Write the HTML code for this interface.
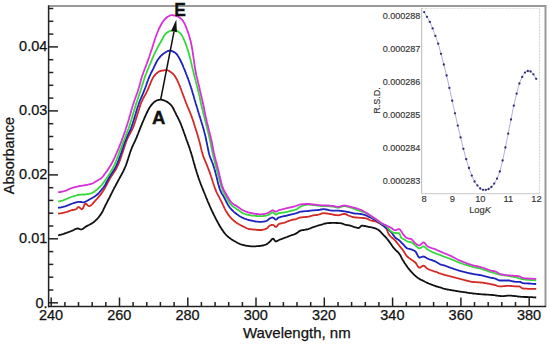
<!DOCTYPE html>
<html><head><meta charset="utf-8"><style>
html,body{margin:0;padding:0;background:#fff;}
body{width:550px;height:344px;overflow:hidden;}
svg{display:block;}
</style></head><body>
<svg width="550" height="344" viewBox="0 0 550 344">
<rect width="550" height="344" fill="#fff"/>
<line x1="48" y1="6" x2="546" y2="6" stroke="#999" stroke-width="2"/>
<line x1="545.5" y1="5" x2="545.5" y2="307" stroke="#999" stroke-width="2"/>
<line x1="48.6" y1="5.5" x2="48.6" y2="307.3" stroke="#222" stroke-width="1.5"/>
<line x1="48" y1="306.6" x2="546" y2="306.6" stroke="#222" stroke-width="1.5"/>
<line x1="48.6" y1="302.8" x2="58" y2="302.8" stroke="#222" stroke-width="1.5"/>
<line x1="48.6" y1="290.0" x2="53.3" y2="290.0" stroke="#222" stroke-width="1.5"/>
<line x1="48.6" y1="277.2" x2="53.3" y2="277.2" stroke="#222" stroke-width="1.5"/>
<line x1="48.6" y1="264.4" x2="53.3" y2="264.4" stroke="#222" stroke-width="1.5"/>
<line x1="48.6" y1="251.6" x2="53.3" y2="251.6" stroke="#222" stroke-width="1.5"/>
<line x1="48.6" y1="238.8" x2="58" y2="238.8" stroke="#222" stroke-width="1.5"/>
<line x1="48.6" y1="226.0" x2="53.3" y2="226.0" stroke="#222" stroke-width="1.5"/>
<line x1="48.6" y1="213.2" x2="53.3" y2="213.2" stroke="#222" stroke-width="1.5"/>
<line x1="48.6" y1="200.4" x2="53.3" y2="200.4" stroke="#222" stroke-width="1.5"/>
<line x1="48.6" y1="187.7" x2="53.3" y2="187.7" stroke="#222" stroke-width="1.5"/>
<line x1="48.6" y1="174.9" x2="58" y2="174.9" stroke="#222" stroke-width="1.5"/>
<line x1="48.6" y1="162.1" x2="53.3" y2="162.1" stroke="#222" stroke-width="1.5"/>
<line x1="48.6" y1="149.3" x2="53.3" y2="149.3" stroke="#222" stroke-width="1.5"/>
<line x1="48.6" y1="136.5" x2="53.3" y2="136.5" stroke="#222" stroke-width="1.5"/>
<line x1="48.6" y1="123.7" x2="53.3" y2="123.7" stroke="#222" stroke-width="1.5"/>
<line x1="48.6" y1="110.9" x2="58" y2="110.9" stroke="#222" stroke-width="1.5"/>
<line x1="48.6" y1="98.1" x2="53.3" y2="98.1" stroke="#222" stroke-width="1.5"/>
<line x1="48.6" y1="85.3" x2="53.3" y2="85.3" stroke="#222" stroke-width="1.5"/>
<line x1="48.6" y1="72.5" x2="53.3" y2="72.5" stroke="#222" stroke-width="1.5"/>
<line x1="48.6" y1="59.7" x2="53.3" y2="59.7" stroke="#222" stroke-width="1.5"/>
<line x1="48.6" y1="46.9" x2="58" y2="46.9" stroke="#222" stroke-width="1.5"/>
<line x1="48.6" y1="34.1" x2="53.3" y2="34.1" stroke="#222" stroke-width="1.5"/>
<line x1="48.6" y1="21.3" x2="53.3" y2="21.3" stroke="#222" stroke-width="1.5"/>
<line x1="48.6" y1="8.5" x2="53.3" y2="8.5" stroke="#222" stroke-width="1.5"/>
<line x1="51.2" y1="297.5" x2="51.2" y2="306.6" stroke="#222" stroke-width="1.5"/>
<line x1="64.9" y1="302" x2="64.9" y2="306.6" stroke="#222" stroke-width="1.5"/>
<line x1="78.5" y1="302" x2="78.5" y2="306.6" stroke="#222" stroke-width="1.5"/>
<line x1="92.2" y1="302" x2="92.2" y2="306.6" stroke="#222" stroke-width="1.5"/>
<line x1="105.8" y1="302" x2="105.8" y2="306.6" stroke="#222" stroke-width="1.5"/>
<line x1="119.5" y1="297.5" x2="119.5" y2="306.6" stroke="#222" stroke-width="1.5"/>
<line x1="133.1" y1="302" x2="133.1" y2="306.6" stroke="#222" stroke-width="1.5"/>
<line x1="146.8" y1="302" x2="146.8" y2="306.6" stroke="#222" stroke-width="1.5"/>
<line x1="160.4" y1="302" x2="160.4" y2="306.6" stroke="#222" stroke-width="1.5"/>
<line x1="174.1" y1="302" x2="174.1" y2="306.6" stroke="#222" stroke-width="1.5"/>
<line x1="187.8" y1="297.5" x2="187.8" y2="306.6" stroke="#222" stroke-width="1.5"/>
<line x1="201.4" y1="302" x2="201.4" y2="306.6" stroke="#222" stroke-width="1.5"/>
<line x1="215.1" y1="302" x2="215.1" y2="306.6" stroke="#222" stroke-width="1.5"/>
<line x1="228.7" y1="302" x2="228.7" y2="306.6" stroke="#222" stroke-width="1.5"/>
<line x1="242.4" y1="302" x2="242.4" y2="306.6" stroke="#222" stroke-width="1.5"/>
<line x1="256.0" y1="297.5" x2="256.0" y2="306.6" stroke="#222" stroke-width="1.5"/>
<line x1="269.7" y1="302" x2="269.7" y2="306.6" stroke="#222" stroke-width="1.5"/>
<line x1="283.4" y1="302" x2="283.4" y2="306.6" stroke="#222" stroke-width="1.5"/>
<line x1="297.0" y1="302" x2="297.0" y2="306.6" stroke="#222" stroke-width="1.5"/>
<line x1="310.7" y1="302" x2="310.7" y2="306.6" stroke="#222" stroke-width="1.5"/>
<line x1="324.3" y1="297.5" x2="324.3" y2="306.6" stroke="#222" stroke-width="1.5"/>
<line x1="338.0" y1="302" x2="338.0" y2="306.6" stroke="#222" stroke-width="1.5"/>
<line x1="351.6" y1="302" x2="351.6" y2="306.6" stroke="#222" stroke-width="1.5"/>
<line x1="365.3" y1="302" x2="365.3" y2="306.6" stroke="#222" stroke-width="1.5"/>
<line x1="378.9" y1="302" x2="378.9" y2="306.6" stroke="#222" stroke-width="1.5"/>
<line x1="392.6" y1="297.5" x2="392.6" y2="306.6" stroke="#222" stroke-width="1.5"/>
<line x1="406.3" y1="302" x2="406.3" y2="306.6" stroke="#222" stroke-width="1.5"/>
<line x1="419.9" y1="302" x2="419.9" y2="306.6" stroke="#222" stroke-width="1.5"/>
<line x1="433.6" y1="302" x2="433.6" y2="306.6" stroke="#222" stroke-width="1.5"/>
<line x1="447.2" y1="302" x2="447.2" y2="306.6" stroke="#222" stroke-width="1.5"/>
<line x1="460.9" y1="297.5" x2="460.9" y2="306.6" stroke="#222" stroke-width="1.5"/>
<line x1="474.5" y1="302" x2="474.5" y2="306.6" stroke="#222" stroke-width="1.5"/>
<line x1="488.2" y1="302" x2="488.2" y2="306.6" stroke="#222" stroke-width="1.5"/>
<line x1="501.8" y1="302" x2="501.8" y2="306.6" stroke="#222" stroke-width="1.5"/>
<line x1="515.5" y1="302" x2="515.5" y2="306.6" stroke="#222" stroke-width="1.5"/>
<line x1="529.2" y1="297.5" x2="529.2" y2="306.6" stroke="#222" stroke-width="1.5"/>
<text x="47.3" y="243.3" font-size="14.5" text-anchor="end" font-family="Liberation Sans" fill="#111" stroke="#111" stroke-width="0.25">0.01</text>
<text x="47.3" y="179.4" font-size="14.5" text-anchor="end" font-family="Liberation Sans" fill="#111" stroke="#111" stroke-width="0.25">0.02</text>
<text x="47.3" y="115.4" font-size="14.5" text-anchor="end" font-family="Liberation Sans" fill="#111" stroke="#111" stroke-width="0.25">0.03</text>
<text x="47.3" y="51.4" font-size="14.5" text-anchor="end" font-family="Liberation Sans" fill="#111" stroke="#111" stroke-width="0.25">0.04</text>
<text x="47.6" y="307.7" font-size="14.5" text-anchor="end" font-family="Liberation Sans" fill="#111" stroke="#111" stroke-width="0.25">0.</text>
<text x="51.0" y="319.9" font-size="14.5" text-anchor="middle" font-family="Liberation Sans" fill="#111" stroke="#111" stroke-width="0.25">240</text>
<text x="119.3" y="319.9" font-size="14.5" text-anchor="middle" font-family="Liberation Sans" fill="#111" stroke="#111" stroke-width="0.25">260</text>
<text x="187.6" y="319.9" font-size="14.5" text-anchor="middle" font-family="Liberation Sans" fill="#111" stroke="#111" stroke-width="0.25">280</text>
<text x="255.8" y="319.9" font-size="14.5" text-anchor="middle" font-family="Liberation Sans" fill="#111" stroke="#111" stroke-width="0.25">300</text>
<text x="324.1" y="319.9" font-size="14.5" text-anchor="middle" font-family="Liberation Sans" fill="#111" stroke="#111" stroke-width="0.25">320</text>
<text x="392.4" y="319.9" font-size="14.5" text-anchor="middle" font-family="Liberation Sans" fill="#111" stroke="#111" stroke-width="0.25">340</text>
<text x="460.7" y="319.9" font-size="14.5" text-anchor="middle" font-family="Liberation Sans" fill="#111" stroke="#111" stroke-width="0.25">360</text>
<text x="529.0" y="319.9" font-size="14.5" text-anchor="middle" font-family="Liberation Sans" fill="#111" stroke="#111" stroke-width="0.25">380</text>
<text x="296.8" y="337.9" font-size="15" text-anchor="middle" font-family="Liberation Sans" fill="#111" stroke="#111" stroke-width="0.25">Wavelength, nm</text>
<text transform="translate(13.8,155.6) rotate(-90)" font-size="14.45" text-anchor="middle" font-family="Liberation Sans" fill="#111" stroke="#111" stroke-width="0.25">Absorbance</text>
<rect x="421.6" y="8.5" width="117.8" height="185" fill="#fff" stroke="none"/>
<line x1="421.6" y1="8.5" x2="539.4" y2="8.5" stroke="#ddd" stroke-width="1" stroke-dasharray="2,1"/>
<line x1="539.4" y1="8.5" x2="539.4" y2="193.6" stroke="#ccc" stroke-width="1" stroke-dasharray="2,1"/>
<line x1="421.6" y1="8" x2="421.6" y2="194" stroke="#c4c4c4" stroke-width="1.2"/>
<line x1="421" y1="193.6" x2="539.4" y2="193.6" stroke="#d4d4d4" stroke-width="1.2"/>
<polyline points="424.2,12.1 425.2,13.7 426.2,15.4 427.2,17.1 428.2,18.9 429.2,20.7 430.2,22.7 431.2,25.0 432.2,27.4 433.2,29.9 434.2,32.6 435.2,35.4 436.2,38.0 437.2,40.8 438.2,43.7 439.2,47.1 440.2,50.8 441.2,54.5 442.2,58.3 443.2,62.2 444.2,66.0 445.2,69.9 446.2,73.9 447.2,78.1 448.2,82.5 449.2,87.0 450.2,91.5 451.2,96.1 452.2,100.7 453.2,105.2 454.2,109.7 455.2,114.2 456.2,118.6 457.2,123.0 458.2,127.3 459.2,131.6 460.2,135.7 461.2,139.9 462.2,144.0 463.2,148.0 464.2,151.9 465.2,155.7 466.2,159.2 467.2,162.5 468.2,165.6 469.2,168.6 470.2,171.4 471.2,174.1 472.2,176.5 473.2,178.8 474.2,180.8 475.2,182.5 476.2,183.9 477.2,185.2 478.2,186.4 479.2,187.6 480.2,188.5 481.2,189.1 482.2,189.6 483.2,189.8 484.2,189.8 485.2,189.8 486.2,189.8 487.2,189.5 488.2,189.2 489.2,188.7 490.2,188.0 491.2,187.2 492.2,186.2 493.2,185.0 494.2,183.6 495.2,182.0 496.2,180.2 497.2,178.2 498.2,175.9 499.2,173.3 500.2,170.2 501.2,166.4 502.2,162.2 503.2,157.9 504.2,153.2 505.2,148.5 506.2,143.6 507.2,138.7 508.2,133.7 509.2,128.6 510.2,123.5 511.2,118.5 512.2,113.5 513.2,108.5 514.2,103.9 515.2,99.5 516.2,95.3 517.2,91.3 518.2,87.5 519.2,84.1 520.2,81.3 521.2,78.9 522.2,76.9 523.2,75.1 524.2,73.5 525.2,72.4 526.2,71.6 527.2,71.1 528.2,71.0 529.2,71.1 530.2,71.4 531.2,71.8 532.2,72.8 533.2,74.1 534.2,75.4 535.2,77.0 536.2,78.8 536.2,78.8" fill="none" stroke="#9a9ad0" stroke-width="0.8"/>
<circle cx="424.2" cy="12.1" r="1.15" fill="#2c2c72"/>
<circle cx="427.0" cy="16.8" r="1.15" fill="#2c2c72"/>
<circle cx="429.8" cy="21.9" r="1.15" fill="#2c2c72"/>
<circle cx="432.6" cy="28.4" r="1.15" fill="#2c2c72"/>
<circle cx="435.4" cy="35.9" r="1.15" fill="#2c2c72"/>
<circle cx="438.2" cy="43.7" r="1.15" fill="#2c2c72"/>
<circle cx="441.0" cy="53.8" r="1.15" fill="#2c2c72"/>
<circle cx="443.8" cy="64.5" r="1.15" fill="#2c2c72"/>
<circle cx="446.6" cy="75.5" r="1.15" fill="#2c2c72"/>
<circle cx="449.4" cy="87.9" r="1.15" fill="#2c2c72"/>
<circle cx="452.2" cy="100.7" r="1.15" fill="#2c2c72"/>
<circle cx="455.0" cy="113.3" r="1.15" fill="#2c2c72"/>
<circle cx="457.8" cy="125.6" r="1.15" fill="#2c2c72"/>
<circle cx="460.6" cy="137.4" r="1.15" fill="#2c2c72"/>
<circle cx="463.4" cy="148.8" r="1.15" fill="#2c2c72"/>
<circle cx="466.2" cy="159.2" r="1.15" fill="#2c2c72"/>
<circle cx="469.0" cy="168.0" r="1.15" fill="#2c2c72"/>
<circle cx="471.8" cy="175.6" r="1.15" fill="#2c2c72"/>
<circle cx="474.6" cy="181.5" r="1.15" fill="#2c2c72"/>
<circle cx="477.4" cy="185.4" r="1.15" fill="#2c2c72"/>
<circle cx="480.2" cy="188.5" r="1.15" fill="#2c2c72"/>
<circle cx="483.0" cy="189.8" r="1.15" fill="#2c2c72"/>
<circle cx="485.8" cy="189.8" r="1.15" fill="#2c2c72"/>
<circle cx="488.6" cy="189.0" r="1.15" fill="#2c2c72"/>
<circle cx="491.4" cy="187.0" r="1.15" fill="#2c2c72"/>
<circle cx="494.2" cy="183.6" r="1.15" fill="#2c2c72"/>
<circle cx="497.0" cy="178.6" r="1.15" fill="#2c2c72"/>
<circle cx="499.8" cy="171.5" r="1.15" fill="#2c2c72"/>
<circle cx="502.6" cy="160.5" r="1.15" fill="#2c2c72"/>
<circle cx="505.4" cy="147.5" r="1.15" fill="#2c2c72"/>
<circle cx="508.2" cy="133.7" r="1.15" fill="#2c2c72"/>
<circle cx="511.0" cy="119.5" r="1.15" fill="#2c2c72"/>
<circle cx="513.8" cy="105.7" r="1.15" fill="#2c2c72"/>
<circle cx="516.6" cy="93.7" r="1.15" fill="#2c2c72"/>
<circle cx="519.4" cy="83.5" r="1.15" fill="#2c2c72"/>
<circle cx="522.2" cy="76.9" r="1.15" fill="#2c2c72"/>
<circle cx="525.0" cy="72.6" r="1.15" fill="#2c2c72"/>
<circle cx="527.8" cy="71.0" r="1.15" fill="#2c2c72"/>
<circle cx="530.6" cy="71.5" r="1.15" fill="#2c2c72"/>
<circle cx="533.4" cy="74.3" r="1.15" fill="#2c2c72"/>
<circle cx="536.2" cy="78.8" r="1.15" fill="#2c2c72"/>
<text transform="translate(420.4,19.3) scale(0.975,1.05)" font-size="9.3" text-anchor="end" font-family="Liberation Sans" fill="#333" stroke="#333" stroke-width="0.15">0.000288</text>
<text transform="translate(420.4,52.2) scale(0.975,1.05)" font-size="9.3" text-anchor="end" font-family="Liberation Sans" fill="#333" stroke="#333" stroke-width="0.15">0.000287</text>
<text transform="translate(420.4,85.1) scale(0.975,1.05)" font-size="9.3" text-anchor="end" font-family="Liberation Sans" fill="#333" stroke="#333" stroke-width="0.15">0.000286</text>
<text transform="translate(420.4,118.0) scale(0.975,1.05)" font-size="9.3" text-anchor="end" font-family="Liberation Sans" fill="#333" stroke="#333" stroke-width="0.15">0.000285</text>
<text transform="translate(420.4,150.9) scale(0.975,1.05)" font-size="9.3" text-anchor="end" font-family="Liberation Sans" fill="#333" stroke="#333" stroke-width="0.15">0.000284</text>
<text transform="translate(420.4,183.8) scale(0.975,1.05)" font-size="9.3" text-anchor="end" font-family="Liberation Sans" fill="#333" stroke="#333" stroke-width="0.15">0.000283</text>
<text x="424.2" y="202.3" font-size="9.3" text-anchor="middle" font-family="Liberation Sans" fill="#333" stroke="#333" stroke-width="0.15">8</text>
<text x="452.3" y="202.3" font-size="9.3" text-anchor="middle" font-family="Liberation Sans" fill="#333" stroke="#333" stroke-width="0.15">9</text>
<text x="480.3" y="202.3" font-size="9.3" text-anchor="middle" font-family="Liberation Sans" fill="#333" stroke="#333" stroke-width="0.15">10</text>
<text x="508.4" y="202.3" font-size="9.3" text-anchor="middle" font-family="Liberation Sans" fill="#333" stroke="#333" stroke-width="0.15">11</text>
<text x="536.5" y="202.3" font-size="9.3" text-anchor="middle" font-family="Liberation Sans" fill="#333" stroke="#333" stroke-width="0.15">12</text>
<text x="480" y="212.7" font-size="9.3" text-anchor="middle" font-family="Liberation Sans" fill="#333" stroke="#333" stroke-width="0.15">Log<tspan font-style="italic">K</tspan></text>
<text transform="translate(379.6,100.6) rotate(-90)" font-size="9" text-anchor="middle" font-family="Liberation Sans" fill="#333" stroke="#333" stroke-width="0.15">R.S.D.</text>
<polyline points="58.1,235.5 59.1,235.2 60.0,234.9 61.0,234.7 61.9,234.4 62.9,234.1 63.8,233.8 64.8,233.4 65.7,233.1 66.7,232.8 67.6,232.4 68.6,232.1 69.5,231.7 70.4,231.4 71.4,231.0 72.3,230.6 73.2,230.2 74.1,229.8 75.0,229.3 75.9,228.9 76.8,228.6 77.8,228.5 78.8,228.7 79.7,229.1 80.7,229.3 81.7,229.3 82.6,229.0 83.5,228.4 84.2,227.8 85.0,227.2 85.8,226.6 86.7,226.1 87.6,225.6 88.5,225.2 89.4,224.8 90.3,224.3 91.2,223.9 92.0,223.3 92.8,222.8 93.6,222.2 94.4,221.5 95.2,220.9 95.9,220.2 96.6,219.5 97.3,218.8 98.0,218.0 98.6,217.3 99.2,216.5 99.8,215.7 100.4,214.9 101.0,214.1 101.5,213.2 102.1,212.4 102.5,211.5 103.0,210.6 103.4,209.7 103.8,208.8 104.2,207.9 104.7,207.0 105.1,206.1 105.5,205.2 106.0,204.3 106.5,203.4 106.9,202.5 107.4,201.6 107.8,200.7 108.3,199.8 108.7,199.0 109.2,198.1 109.7,197.2 110.1,196.3 110.5,195.4 111.0,194.5 111.4,193.6 111.9,192.7 112.3,191.8 112.8,190.9 113.2,190.0 113.7,189.1 114.1,188.2 114.6,187.3 115.1,186.5 115.6,185.6 116.0,184.7 116.5,183.8 117.0,182.9 117.5,182.1 117.9,181.2 118.4,180.3 118.9,179.4 119.4,178.5 119.8,177.7 120.3,176.8 120.8,175.9 121.3,175.0 121.7,174.2 122.2,173.3 122.7,172.4 123.1,171.5 123.6,170.6 124.0,169.7 124.4,168.8 124.8,167.9 125.2,167.0 125.6,166.0 126.0,165.1 126.3,164.2 126.7,163.2 127.0,162.3 127.3,161.3 127.6,160.4 127.9,159.4 128.2,158.5 128.5,157.5 128.8,156.6 129.1,155.6 129.4,154.7 129.7,153.7 130.0,152.8 130.3,151.8 130.7,150.9 131.0,149.9 131.4,149.0 131.7,148.1 132.1,147.2 132.5,146.3 132.9,145.4 133.4,144.4 133.8,143.5 134.2,142.6 134.7,141.7 135.1,140.8 135.5,139.9 135.9,139.0 136.3,138.1 136.7,137.2 137.1,136.2 137.4,135.3 137.8,134.4 138.2,133.5 138.5,132.5 138.9,131.6 139.3,130.7 139.6,129.7 140.0,128.8 140.4,127.9 140.7,126.9 141.1,126.0 141.5,125.1 141.9,124.2 142.2,123.2 142.6,122.3 143.0,121.4 143.4,120.5 143.8,119.6 144.2,118.6 144.6,117.7 145.0,116.8 145.4,115.9 145.8,115.0 146.2,114.1 146.6,113.2 147.1,112.3 147.5,111.4 148.0,110.5 148.4,109.6 148.9,108.7 149.4,107.8 149.9,107.0 150.5,106.2 151.1,105.4 151.7,104.6 152.4,103.8 153.1,103.1 153.8,102.4 154.6,101.8 155.4,101.2 156.2,100.7 157.1,100.3 158.1,100.0 159.1,99.8 160.1,99.7 161.1,99.7 162.1,99.9 163.0,100.1 164.0,100.4 164.9,100.8 165.8,101.2 166.7,101.6 167.6,102.1 168.4,102.8 169.2,103.4 169.9,104.0 170.6,104.7 171.3,105.5 171.9,106.2 172.5,107.1 173.0,107.9 173.4,108.8 173.9,109.7 174.3,110.6 174.8,111.5 175.2,112.4 175.7,113.3 176.1,114.2 176.5,115.1 177.0,116.0 177.5,116.9 177.9,117.8 178.4,118.6 178.8,119.5 179.2,120.4 179.7,121.3 180.1,122.3 180.5,123.2 180.9,124.1 181.2,125.0 181.6,126.0 181.9,126.9 182.3,127.8 182.6,128.8 183.0,129.7 183.3,130.6 183.6,131.6 184.0,132.5 184.3,133.5 184.7,134.4 185.0,135.4 185.3,136.3 185.7,137.2 186.0,138.2 186.3,139.1 186.7,140.1 187.0,141.0 187.4,141.9 187.7,142.9 188.0,143.8 188.4,144.8 188.7,145.7 189.0,146.7 189.4,147.6 189.7,148.5 190.0,149.5 190.3,150.4 190.6,151.4 190.9,152.4 191.2,153.3 191.5,154.3 191.8,155.2 192.1,156.2 192.3,157.1 192.6,158.1 192.9,159.1 193.1,160.0 193.4,161.0 193.7,162.0 193.9,162.9 194.2,163.9 194.5,164.8 194.8,165.8 195.0,166.8 195.3,167.7 195.6,168.7 195.9,169.6 196.2,170.6 196.5,171.6 196.8,172.5 197.1,173.5 197.4,174.4 197.7,175.4 198.0,176.3 198.3,177.3 198.6,178.2 199.0,179.2 199.3,180.1 199.7,181.0 200.0,182.0 200.4,182.9 200.7,183.8 201.1,184.8 201.5,185.7 201.8,186.6 202.2,187.6 202.6,188.5 202.9,189.4 203.3,190.3 203.7,191.3 204.1,192.2 204.4,193.1 204.8,194.0 205.2,195.0 205.6,195.9 205.9,196.8 206.3,197.8 206.7,198.7 207.1,199.6 207.4,200.5 207.8,201.5 208.2,202.4 208.6,203.3 209.0,204.2 209.4,205.1 209.8,206.1 210.2,207.0 210.6,207.9 211.0,208.8 211.4,209.7 211.8,210.6 212.2,211.5 212.7,212.4 213.1,213.3 213.6,214.2 214.0,215.1 214.5,216.0 214.9,216.9 215.4,217.8 215.8,218.7 216.3,219.6 216.7,220.5 217.2,221.3 217.7,222.2 218.2,223.1 218.6,224.0 219.1,224.8 219.6,225.7 220.1,226.6 220.7,227.4 221.2,228.3 221.7,229.1 222.3,229.9 222.9,230.8 223.4,231.6 224.0,232.4 224.6,233.2 225.3,234.0 225.9,234.7 226.6,235.4 227.4,236.1 228.1,236.8 228.9,237.4 229.7,238.0 230.5,238.6 231.3,239.2 232.1,239.7 233.0,240.3 233.8,240.8 234.7,241.3 235.6,241.8 236.5,242.2 237.3,242.7 238.2,243.2 239.1,243.6 240.0,244.0 241.0,244.4 241.9,244.7 242.9,245.0 243.9,245.2 244.8,245.4 245.8,245.6 246.8,245.8 247.8,245.9 248.8,246.1 249.8,246.2 250.8,246.3 251.8,246.4 252.8,246.4 253.8,246.4 254.8,246.4 255.8,246.3 256.7,246.2 257.7,246.2 258.7,246.1 259.7,246.0 260.7,245.9 261.7,245.7 262.7,245.5 263.7,245.3 264.6,245.0 265.6,244.7 266.5,244.3 267.3,243.7 268.1,243.1 268.9,242.5 269.6,241.8 270.4,241.1 271.0,240.3 271.6,239.6 272.3,238.8 273.2,238.7 273.9,239.4 274.5,240.2 275.1,241.0 275.9,241.5 276.9,241.2 277.7,240.7 278.6,240.2 279.5,239.8 280.4,239.4 281.4,239.1 282.3,238.7 283.2,238.4 284.2,238.0 285.1,237.7 286.0,237.3 287.0,237.0 287.9,236.6 288.8,236.2 289.8,235.9 290.7,235.5 291.7,235.2 292.6,234.9 293.6,234.6 294.5,234.2 295.4,233.9 296.3,233.4 297.2,232.9 298.0,232.3 298.7,231.6 299.5,231.1 300.4,230.6 301.4,230.3 302.4,230.1 303.4,230.0 304.4,229.8 305.3,229.7 306.3,229.5 307.3,229.3 308.3,229.1 309.2,228.7 310.2,228.4 311.1,228.0 312.0,227.6 312.9,227.2 313.9,226.9 314.8,226.6 315.8,226.3 316.7,226.0 317.7,225.7 318.6,225.4 319.6,225.1 320.6,224.9 321.5,224.6 322.5,224.3 323.4,224.0 324.4,223.7 325.4,223.5 326.4,223.3 327.4,223.2 328.4,223.1 329.3,223.0 330.3,223.0 331.3,222.9 332.3,222.9 333.3,222.9 334.3,222.9 335.3,222.9 336.3,223.0 337.3,223.0 338.3,223.1 339.3,223.2 340.3,223.2 341.3,223.3 342.3,223.6 343.2,223.9 344.1,224.3 345.1,224.7 346.1,224.9 347.0,225.1 348.0,225.2 349.0,225.3 350.0,225.5 351.0,225.8 351.9,226.2 352.8,226.5 353.8,226.9 354.7,227.2 355.7,227.4 356.6,227.7 357.6,227.9 358.6,228.0 359.5,227.6 360.2,226.9 360.9,226.2 361.8,225.6 362.8,225.6 363.7,225.8 364.7,226.0 365.7,226.2 366.7,226.5 367.6,226.7 368.6,226.9 369.6,227.1 370.6,227.2 371.6,227.4 372.6,227.6 373.5,227.8 374.5,228.1 375.4,228.4 376.4,228.8 377.2,229.3 378.1,229.8 378.9,230.3 379.7,231.0 380.4,231.7 381.1,232.4 381.7,233.2 382.4,233.9 383.1,234.6 383.8,235.3 384.5,236.0 385.2,236.7 385.9,237.5 386.6,238.2 387.2,239.0 387.8,239.8 388.4,240.6 389.0,241.4 389.6,242.2 390.2,243.0 390.8,243.8 391.4,244.6 391.9,245.4 392.5,246.3 393.1,247.1 393.7,247.9 394.4,248.6 395.0,249.4 395.7,250.1 396.4,250.8 397.2,251.5 397.9,252.2 398.6,252.9 399.2,253.7 399.8,254.5 400.3,255.3 400.8,256.2 401.2,257.1 401.7,258.0 402.1,258.9 402.6,259.8 403.1,260.6 403.7,261.5 404.2,262.3 404.7,263.2 405.3,264.0 405.9,264.8 406.4,265.6 407.0,266.4 407.6,267.3 408.2,268.1 408.8,268.8 409.4,269.6 410.1,270.4 410.7,271.2 411.4,271.9 412.1,272.6 412.8,273.4 413.5,274.1 414.2,274.8 414.9,275.5 415.7,276.1 416.4,276.8 417.2,277.4 418.0,278.0 418.8,278.5 419.7,279.1 420.6,279.6 421.5,280.0 422.4,280.4 423.3,280.9 424.1,281.3 425.0,281.8 425.9,282.2 426.8,282.7 427.8,283.1 428.7,283.5 429.6,283.8 430.5,284.2 431.5,284.6 432.4,284.9 433.3,285.3 434.3,285.6 435.2,285.9 436.2,286.3 437.1,286.5 438.1,286.8 439.0,287.1 440.0,287.4 440.9,287.7 441.9,288.0 442.8,288.4 443.8,288.7 444.8,288.9 445.7,289.2 446.7,289.3 447.7,289.5 448.7,289.7 449.7,289.8 450.7,290.0 451.6,290.1 452.6,290.3 453.6,290.5 454.6,290.6 455.6,290.8 456.6,291.0 457.6,291.1 458.5,291.3 459.5,291.5 460.5,291.6 461.5,291.8 462.5,291.9 463.5,292.1 464.5,292.2 465.5,292.4 466.5,292.5 467.4,292.7 468.4,292.8 469.4,293.0 470.4,293.1 471.4,293.2 472.4,293.3 473.4,293.5 474.4,293.6 475.4,293.7 476.4,293.8 477.4,293.9 478.4,294.0 479.4,294.1 480.4,294.2 481.3,294.3 482.3,294.4 483.3,294.4 484.3,294.5 485.3,294.5 486.3,294.6 487.3,294.6 488.3,294.7 489.3,294.8 490.3,294.8 491.3,294.9 492.3,295.0 493.3,295.1 494.3,295.2 495.3,295.3 496.3,295.5 497.3,295.6 498.3,295.8 499.3,295.9 500.3,296.0 501.3,296.1 502.2,296.2 503.2,296.2 504.2,296.1 505.2,295.9 506.2,295.8 507.2,295.6 508.2,295.6 509.2,295.6 510.2,295.7 511.2,295.7 512.2,295.8 513.2,295.9 514.2,296.0 515.2,296.1 516.2,296.2 517.2,296.3 518.2,296.5 519.2,296.6 520.2,296.7 521.1,296.8 522.1,296.9 523.1,296.9 524.1,297.0 525.1,297.0 526.1,297.0 527.1,297.0 528.1,297.1 529.1,297.1 530.1,297.1 531.1,297.2 532.1,297.2 533.1,297.3 534.1,297.4 535.1,297.4 536.1,297.5 536.2,297.5" fill="none" stroke="#111111" stroke-width="1.8" stroke-linejoin="round"/>
<polyline points="58.1,213.7 59.1,213.6 60.1,213.4 61.1,213.3 62.0,213.1 63.0,212.9 64.0,212.7 65.0,212.4 65.9,212.2 66.9,211.9 67.8,211.6 68.8,211.2 69.7,210.9 70.7,210.5 71.6,210.2 72.6,210.0 73.6,209.8 74.6,209.6 75.5,209.4 76.4,209.0 77.1,208.2 77.7,207.4 78.6,207.0 79.5,207.4 80.2,208.1 80.9,208.8 81.8,209.3 82.6,208.8 83.1,208.0 83.5,207.0 83.9,206.1 84.2,205.2 84.7,204.3 85.3,203.5 86.2,203.8 86.9,204.5 87.6,205.3 88.3,205.9 89.3,206.2 90.2,205.8 91.0,205.3 91.8,204.6 92.5,203.9 93.1,203.1 93.8,202.4 94.4,201.6 95.1,200.9 95.8,200.2 96.5,199.4 97.2,198.7 97.8,198.0 98.5,197.2 99.1,196.4 99.7,195.6 100.4,194.9 101.0,194.1 101.5,193.2 102.1,192.4 102.7,191.6 103.2,190.7 103.7,189.9 104.3,189.0 104.8,188.2 105.3,187.3 105.7,186.4 106.2,185.6 106.7,184.7 107.1,183.8 107.6,182.9 108.0,182.0 108.5,181.1 109.0,180.2 109.5,179.4 109.9,178.5 110.5,177.6 111.0,176.8 111.5,175.9 112.1,175.1 112.6,174.3 113.2,173.4 113.7,172.6 114.3,171.8 114.8,170.9 115.4,170.1 115.9,169.2 116.4,168.4 116.8,167.5 117.3,166.6 117.7,165.7 118.1,164.8 118.5,163.9 118.9,162.9 119.3,162.0 119.6,161.1 120.0,160.1 120.3,159.2 120.6,158.3 121.0,157.3 121.3,156.4 121.6,155.4 121.9,154.5 122.2,153.5 122.6,152.6 122.9,151.6 123.2,150.7 123.5,149.7 123.8,148.8 124.1,147.8 124.4,146.9 124.7,145.9 125.0,145.0 125.4,144.0 125.7,143.1 126.0,142.1 126.4,141.2 126.7,140.3 127.1,139.4 127.5,138.4 127.9,137.5 128.4,136.6 128.8,135.7 129.3,134.9 129.8,134.0 130.3,133.1 130.8,132.2 131.2,131.4 131.7,130.5 132.1,129.6 132.5,128.7 132.9,127.8 133.3,126.8 133.7,125.9 134.0,125.0 134.3,124.0 134.7,123.1 135.0,122.1 135.3,121.2 135.6,120.2 135.9,119.3 136.2,118.3 136.5,117.4 136.8,116.4 137.1,115.5 137.4,114.5 137.7,113.5 138.0,112.6 138.3,111.6 138.6,110.7 138.9,109.7 139.2,108.8 139.5,107.8 139.8,106.9 140.1,105.9 140.4,105.0 140.8,104.0 141.1,103.1 141.5,102.2 141.9,101.3 142.3,100.3 142.7,99.4 143.1,98.5 143.6,97.7 144.1,96.8 144.6,95.9 145.1,95.0 145.6,94.2 146.0,93.3 146.5,92.4 146.9,91.5 147.4,90.6 147.8,89.7 148.2,88.8 148.6,87.9 148.9,86.9 149.3,86.0 149.7,85.1 150.1,84.2 150.5,83.3 150.8,82.3 151.2,81.4 151.6,80.5 152.0,79.6 152.5,78.7 152.9,77.8 153.5,77.0 154.0,76.2 154.7,75.4 155.3,74.6 156.0,73.9 156.8,73.3 157.5,72.6 158.3,72.0 159.2,71.4 160.1,71.0 161.0,70.8 162.0,70.6 163.0,70.5 164.0,70.3 165.0,70.2 166.0,70.2 167.0,70.2 168.0,70.5 168.9,70.9 169.8,71.4 170.6,71.9 171.4,72.5 172.2,73.1 173.0,73.8 173.6,74.5 174.2,75.3 174.8,76.1 175.4,76.9 175.9,77.8 176.4,78.7 176.9,79.5 177.3,80.4 177.7,81.3 178.1,82.2 178.5,83.2 178.9,84.1 179.3,85.0 179.7,85.9 180.1,86.9 180.4,87.8 180.8,88.7 181.2,89.6 181.5,90.6 181.8,91.5 182.2,92.5 182.5,93.4 182.9,94.3 183.2,95.3 183.6,96.2 183.9,97.2 184.3,98.1 184.6,99.0 185.0,100.0 185.3,100.9 185.7,101.8 186.0,102.8 186.4,103.7 186.8,104.6 187.2,105.5 187.5,106.5 187.9,107.4 188.3,108.3 188.7,109.2 189.1,110.2 189.5,111.1 189.9,112.0 190.2,112.9 190.6,113.9 191.0,114.8 191.3,115.7 191.7,116.7 192.0,117.6 192.3,118.5 192.7,119.5 193.0,120.4 193.3,121.4 193.6,122.3 193.9,123.3 194.2,124.2 194.5,125.2 194.8,126.2 195.1,127.1 195.4,128.1 195.7,129.0 196.0,130.0 196.3,130.9 196.6,131.9 196.9,132.8 197.2,133.8 197.5,134.7 197.8,135.7 198.1,136.7 198.3,137.6 198.6,138.6 198.9,139.5 199.2,140.5 199.4,141.5 199.7,142.4 199.9,143.4 200.1,144.4 200.4,145.3 200.6,146.3 200.8,147.3 201.1,148.3 201.3,149.2 201.5,150.2 201.8,151.2 202.1,152.1 202.3,153.1 202.6,154.0 202.9,155.0 203.2,155.9 203.5,156.9 203.9,157.8 204.3,158.8 204.6,159.7 205.0,160.6 205.4,161.5 205.8,162.4 206.2,163.4 206.6,164.3 206.9,165.2 207.3,166.1 207.7,167.1 208.0,168.0 208.4,168.9 208.7,169.9 209.1,170.8 209.4,171.7 209.8,172.7 210.1,173.6 210.4,174.6 210.8,175.5 211.1,176.5 211.4,177.4 211.7,178.4 212.0,179.3 212.3,180.3 212.6,181.2 212.9,182.2 213.2,183.1 213.5,184.1 213.9,185.0 214.2,186.0 214.5,186.9 214.8,187.9 215.2,188.8 215.5,189.7 215.9,190.6 216.3,191.6 216.7,192.5 217.1,193.4 217.6,194.3 218.0,195.2 218.5,196.0 219.0,196.9 219.5,197.8 219.9,198.7 220.4,199.6 220.9,200.5 221.3,201.4 221.7,202.3 222.2,203.2 222.6,204.1 223.0,205.0 223.4,205.9 223.8,206.8 224.3,207.7 224.7,208.6 225.2,209.5 225.6,210.4 226.1,211.2 226.7,212.1 227.2,212.9 227.8,213.7 228.3,214.6 228.9,215.4 229.5,216.2 230.1,217.0 230.8,217.7 231.5,218.5 232.1,219.2 232.9,219.9 233.6,220.5 234.4,221.2 235.2,221.8 236.0,222.4 236.8,222.9 237.7,223.5 238.5,224.0 239.4,224.5 240.3,225.0 241.2,225.4 242.0,225.9 242.9,226.4 243.8,226.8 244.7,227.3 245.6,227.8 246.5,228.2 247.4,228.5 248.4,228.8 249.4,229.0 250.4,229.1 251.4,229.3 252.4,229.4 253.3,229.5 254.3,229.6 255.3,229.7 256.3,229.8 257.3,229.9 258.3,230.0 259.3,230.0 260.3,230.0 261.3,230.0 262.3,229.8 263.3,229.6 264.3,229.4 265.2,229.1 266.2,228.7 267.0,228.3 267.8,227.6 268.4,226.8 269.1,226.1 269.9,225.5 270.9,225.2 271.8,224.9 272.8,224.8 273.7,225.2 274.4,225.9 275.1,226.7 276.0,227.0 276.8,226.4 277.4,225.6 278.0,224.8 278.7,224.1 279.6,223.7 280.6,223.5 281.6,223.3 282.5,223.1 283.5,222.9 284.5,222.6 285.4,222.3 286.4,221.9 287.3,221.5 288.2,221.1 289.1,220.8 290.1,220.5 291.1,220.2 292.0,220.0 293.0,219.7 294.0,219.5 295.0,219.3 295.9,219.1 296.9,218.8 297.8,218.4 298.7,218.0 299.7,217.7 300.7,217.5 301.6,217.3 302.6,217.2 303.6,217.2 304.6,217.1 305.6,217.0 306.6,216.9 307.6,216.8 308.6,216.7 309.6,216.4 310.5,216.1 311.5,215.8 312.5,215.5 313.4,215.3 314.4,215.2 315.4,215.1 316.4,215.0 317.4,214.9 318.4,214.7 319.3,214.4 320.3,214.1 321.2,213.7 322.2,213.4 323.2,213.2 324.1,213.2 325.1,213.3 326.1,213.4 327.1,213.5 328.1,213.7 329.1,213.8 330.1,214.0 331.1,214.2 332.1,214.4 333.0,214.6 334.0,214.8 335.0,215.0 336.0,215.1 337.0,215.2 338.0,215.3 339.0,215.2 339.9,215.0 340.9,214.7 341.8,214.4 342.8,214.1 343.8,213.9 344.8,214.0 345.7,214.2 346.7,214.6 347.6,215.1 348.4,215.5 349.4,215.9 350.3,216.2 351.3,216.5 352.2,216.8 353.2,217.0 354.2,217.3 355.2,217.4 356.2,217.5 357.2,217.6 358.1,217.7 359.1,217.7 360.1,217.8 361.1,217.9 362.1,217.9 363.1,218.0 364.1,218.1 365.1,218.2 366.1,218.4 367.1,218.7 368.0,219.1 368.9,219.6 369.8,220.0 370.7,220.3 371.7,220.6 372.7,220.8 373.6,221.0 374.6,221.2 375.6,221.5 376.5,221.8 377.5,222.2 378.4,222.6 379.3,223.1 380.1,223.6 381.0,224.1 381.8,224.6 382.7,225.2 383.5,225.8 384.2,226.4 385.0,227.1 385.6,227.8 386.3,228.6 386.8,229.5 387.2,230.4 387.5,231.3 387.9,232.2 388.2,233.2 388.6,234.1 389.2,234.9 389.8,235.7 390.5,236.4 391.3,237.1 392.1,237.7 392.8,238.3 393.6,239.0 394.3,239.6 395.0,240.4 395.7,241.1 396.3,241.9 396.9,242.7 397.6,243.5 398.2,244.2 398.8,245.0 399.4,245.8 400.1,246.6 400.7,247.4 401.3,248.1 402.0,248.9 402.6,249.7 403.2,250.5 403.7,251.3 404.3,252.2 404.8,253.0 405.3,253.9 405.8,254.7 406.4,255.6 407.0,256.3 407.8,257.0 408.5,257.7 409.3,258.2 410.2,258.8 411.0,259.4 411.8,260.0 412.6,260.5 413.5,261.1 414.3,261.7 415.0,262.3 415.8,263.0 416.3,263.8 416.8,264.7 417.3,265.5 417.9,266.4 418.5,267.2 419.3,267.7 420.3,267.5 421.1,266.9 421.9,266.4 422.8,265.9 423.8,265.7 424.7,266.2 425.4,266.8 426.1,267.6 426.8,268.2 427.6,268.8 428.5,269.3 429.5,269.6 430.4,270.0 431.3,270.3 432.3,270.6 433.2,271.0 434.2,271.3 435.1,271.6 436.1,271.9 437.0,272.3 437.9,272.7 438.9,273.1 439.8,273.4 440.7,273.7 441.7,274.0 442.7,274.3 443.6,274.5 444.6,274.8 445.6,275.1 446.5,275.3 447.5,275.6 448.4,275.9 449.4,276.1 450.4,276.4 451.3,276.7 452.3,276.9 453.3,277.1 454.3,277.4 455.2,277.6 456.2,277.9 457.2,278.1 458.1,278.3 459.1,278.6 460.1,278.8 461.0,279.1 462.0,279.4 463.0,279.6 463.9,279.9 464.9,280.2 465.8,280.5 466.8,280.7 467.8,281.0 468.8,281.2 469.7,281.4 470.7,281.6 471.7,281.8 472.7,281.9 473.7,282.0 474.7,282.1 475.7,282.1 476.7,282.2 477.7,282.3 478.7,282.3 479.7,282.4 480.7,282.5 481.7,282.6 482.7,282.7 483.7,282.9 484.6,283.0 485.6,283.2 486.6,283.3 487.6,283.5 488.6,283.7 489.6,283.9 490.5,284.1 491.5,284.3 492.5,284.5 493.5,284.7 494.4,285.0 495.4,285.2 496.4,285.5 497.3,285.8 498.3,286.1 499.3,286.3 500.2,286.4 501.2,286.4 502.2,286.3 503.2,286.2 504.2,286.1 505.2,286.0 506.2,285.9 507.2,285.8 508.2,285.8 509.2,285.8 510.2,285.9 511.2,286.0 512.2,286.1 513.2,286.2 514.2,286.3 515.2,286.4 516.2,286.4 517.2,286.4 518.2,286.4 519.2,286.4 520.1,286.8 520.9,287.4 521.7,288.0 522.6,288.4 523.6,288.5 524.6,288.6 525.6,288.7 526.6,288.7 527.6,288.8 528.5,288.8 529.5,288.8 530.5,288.8 531.5,288.8 532.5,288.8 533.5,288.8 534.5,288.8 535.5,288.8 536.2,288.8" fill="none" stroke="#d42a25" stroke-width="1.8" stroke-linejoin="round"/>
<polyline points="58.1,207.9 59.1,207.7 60.1,207.6 61.0,207.4 62.0,207.1 63.0,206.9 64.0,206.6 64.9,206.4 65.9,206.1 66.8,205.7 67.8,205.4 68.7,205.0 69.6,204.6 70.5,204.2 71.4,203.8 72.4,203.5 73.3,203.2 74.3,202.9 75.2,202.6 76.2,202.3 77.2,202.1 78.2,201.9 79.2,201.8 80.1,201.9 81.1,202.0 82.1,202.2 83.1,202.3 84.1,202.1 85.0,201.8 86.0,201.4 86.8,201.0 87.7,200.5 88.6,199.9 89.4,199.4 90.3,199.0 91.2,198.5 92.1,198.0 92.9,197.5 93.8,197.0 94.6,196.5 95.5,195.9 96.3,195.3 97.0,194.7 97.8,194.0 98.5,193.3 99.2,192.6 99.8,191.8 100.5,191.0 101.1,190.3 101.7,189.5 102.4,188.7 103.0,188.0 103.6,187.2 104.2,186.4 104.8,185.5 105.3,184.7 105.8,183.8 106.2,182.9 106.7,182.0 107.1,181.1 107.6,180.2 108.1,179.4 108.5,178.5 109.0,177.6 109.6,176.8 110.1,175.9 110.6,175.1 111.2,174.2 111.7,173.4 112.3,172.6 112.8,171.7 113.3,170.9 113.9,170.0 114.4,169.2 114.9,168.3 115.4,167.4 115.8,166.5 116.3,165.6 116.7,164.7 117.1,163.8 117.5,162.9 117.8,162.0 118.2,161.0 118.6,160.1 118.9,159.2 119.3,158.2 119.6,157.3 120.0,156.4 120.3,155.4 120.6,154.5 120.9,153.5 121.3,152.6 121.6,151.6 121.9,150.7 122.2,149.7 122.5,148.8 122.9,147.8 123.2,146.9 123.5,145.9 123.8,145.0 124.1,144.1 124.5,143.1 124.8,142.2 125.2,141.2 125.5,140.3 125.9,139.4 126.3,138.5 126.7,137.5 127.1,136.6 127.5,135.7 127.9,134.8 128.4,133.9 128.8,133.0 129.2,132.1 129.7,131.2 130.1,130.3 130.5,129.4 130.9,128.5 131.2,127.6 131.6,126.6 131.9,125.7 132.3,124.7 132.6,123.8 132.9,122.8 133.2,121.9 133.5,120.9 133.8,120.0 134.1,119.0 134.4,118.1 134.6,117.1 134.9,116.1 135.2,115.2 135.5,114.2 135.8,113.3 136.1,112.3 136.4,111.4 136.6,110.4 136.9,109.4 137.2,108.5 137.5,107.5 137.8,106.6 138.2,105.6 138.5,104.7 138.8,103.7 139.1,102.8 139.5,101.9 139.8,100.9 140.2,100.0 140.6,99.1 141.0,98.2 141.4,97.2 141.8,96.3 142.2,95.4 142.6,94.5 143.0,93.6 143.4,92.7 143.7,91.7 144.1,90.8 144.5,89.9 144.8,88.9 145.2,88.0 145.5,87.1 145.9,86.1 146.2,85.2 146.5,84.2 146.9,83.3 147.2,82.4 147.5,81.4 147.9,80.5 148.2,79.5 148.6,78.6 149.0,77.7 149.3,76.8 149.7,75.9 150.2,74.9 150.6,74.0 151.0,73.1 151.5,72.3 151.9,71.4 152.4,70.5 152.8,69.6 153.3,68.7 153.7,67.8 154.1,66.9 154.6,66.0 155.0,65.1 155.4,64.2 155.9,63.3 156.3,62.4 156.8,61.5 157.3,60.6 157.8,59.8 158.4,59.0 159.0,58.2 159.6,57.4 160.2,56.6 160.9,55.9 161.6,55.2 162.4,54.5 163.1,53.9 164.0,53.3 164.8,52.8 165.7,52.2 166.5,51.7 167.4,51.3 168.3,50.9 169.3,50.7 170.3,50.7 171.3,50.9 172.3,51.2 173.2,51.6 174.1,52.1 174.9,52.5 175.7,53.1 176.4,53.8 177.1,54.6 177.6,55.4 178.2,56.3 178.7,57.2 179.2,58.0 179.7,58.9 180.1,59.8 180.6,60.7 181.0,61.6 181.4,62.5 181.9,63.4 182.3,64.3 182.7,65.2 183.1,66.1 183.4,67.0 183.8,68.0 184.2,68.9 184.6,69.8 184.9,70.7 185.3,71.7 185.7,72.6 186.0,73.5 186.4,74.5 186.8,75.4 187.1,76.3 187.5,77.3 187.8,78.2 188.2,79.1 188.5,80.1 188.9,81.0 189.2,82.0 189.5,82.9 189.8,83.9 190.1,84.8 190.5,85.8 190.8,86.7 191.1,87.7 191.4,88.6 191.7,89.6 192.0,90.5 192.3,91.5 192.5,92.4 192.8,93.4 193.1,94.4 193.4,95.3 193.7,96.3 194.0,97.2 194.2,98.2 194.5,99.2 194.8,100.1 195.1,101.1 195.4,102.0 195.6,103.0 195.9,104.0 196.2,104.9 196.5,105.9 196.8,106.8 197.1,107.8 197.4,108.7 197.7,109.7 197.9,110.7 198.2,111.6 198.5,112.6 198.8,113.5 199.1,114.5 199.4,115.4 199.7,116.4 200.0,117.3 200.3,118.3 200.6,119.2 200.9,120.2 201.2,121.2 201.5,122.1 201.8,123.1 202.1,124.0 202.4,125.0 202.7,125.9 202.9,126.9 203.2,127.9 203.5,128.8 203.8,129.8 204.0,130.8 204.3,131.7 204.5,132.7 204.8,133.7 205.0,134.6 205.2,135.6 205.5,136.6 205.7,137.5 205.9,138.5 206.1,139.5 206.3,140.5 206.5,141.5 206.7,142.4 206.9,143.4 207.1,144.4 207.3,145.4 207.5,146.4 207.7,147.3 207.9,148.3 208.1,149.3 208.3,150.3 208.5,151.3 208.7,152.2 209.0,153.2 209.2,154.2 209.5,155.1 209.8,156.1 210.1,157.0 210.4,157.9 210.8,158.9 211.2,159.8 211.6,160.7 211.9,161.6 212.3,162.6 212.7,163.5 213.0,164.4 213.3,165.4 213.6,166.3 214.0,167.3 214.2,168.2 214.5,169.2 214.8,170.1 215.1,171.1 215.3,172.1 215.6,173.0 215.8,174.0 216.1,175.0 216.3,175.9 216.6,176.9 216.8,177.9 217.0,178.9 217.3,179.8 217.5,180.8 217.7,181.8 218.0,182.7 218.2,183.7 218.5,184.7 218.8,185.6 219.0,186.6 219.3,187.5 219.6,188.5 219.9,189.4 220.3,190.4 220.6,191.3 221.1,192.2 221.5,193.1 222.0,193.9 222.6,194.8 223.1,195.6 223.6,196.5 224.1,197.4 224.5,198.3 225.0,199.1 225.4,200.0 225.9,200.9 226.3,201.8 226.8,202.7 227.3,203.6 227.8,204.5 228.3,205.3 228.8,206.2 229.4,207.0 230.0,207.8 230.7,208.5 231.3,209.3 232.0,210.0 232.7,210.7 233.4,211.4 234.2,212.1 235.0,212.7 235.7,213.3 236.5,214.0 237.3,214.5 238.1,215.1 239.0,215.7 239.8,216.2 240.7,216.7 241.5,217.2 242.4,217.7 243.4,218.1 244.3,218.5 245.2,218.8 246.2,219.1 247.1,219.5 248.1,219.8 249.0,220.0 250.0,220.3 251.0,220.5 251.9,220.7 252.9,220.9 253.9,221.1 254.9,221.3 255.9,221.5 256.9,221.6 257.9,221.7 258.9,221.8 259.8,221.9 260.8,221.9 261.8,221.8 262.8,221.7 263.8,221.6 264.8,221.4 265.8,221.2 266.8,220.9 267.6,220.3 268.3,219.7 269.0,219.0 269.8,218.4 270.8,218.0 271.7,217.7 272.7,217.5 273.6,217.8 274.3,218.5 275.0,219.3 275.8,219.7 276.7,219.3 277.4,218.5 278.1,217.9 279.0,217.4 280.0,217.1 280.9,216.8 281.9,216.6 282.9,216.4 283.9,216.2 284.9,216.0 285.8,215.8 286.8,215.5 287.8,215.3 288.7,215.0 289.7,214.8 290.7,214.5 291.6,214.3 292.6,214.1 293.6,213.9 294.6,213.6 295.5,213.4 296.5,213.1 297.4,212.8 298.4,212.4 299.3,212.0 300.3,211.7 301.2,211.6 302.2,211.5 303.2,211.4 304.2,211.3 305.2,211.2 306.2,211.1 307.2,211.1 308.2,211.0 309.2,210.8 310.2,210.7 311.2,210.6 312.2,210.4 313.2,210.3 314.2,210.3 315.2,210.2 316.2,210.1 317.2,210.1 318.2,210.0 319.2,209.8 320.1,209.7 321.1,209.5 322.1,209.3 323.1,209.2 324.1,209.2 325.1,209.3 326.1,209.5 327.1,209.7 328.0,209.9 329.0,210.2 330.0,210.4 331.0,210.6 331.9,210.7 332.9,210.7 333.9,210.7 334.9,210.7 335.9,210.7 336.9,210.7 337.9,210.7 338.9,210.7 339.9,210.8 340.9,210.9 341.9,211.0 342.9,211.1 343.9,211.3 344.9,211.4 345.9,211.6 346.9,211.8 347.8,212.0 348.8,212.2 349.8,212.4 350.8,212.6 351.8,212.8 352.7,213.1 353.7,213.3 354.7,213.5 355.7,213.6 356.7,213.7 357.7,213.7 358.7,213.8 359.7,213.9 360.7,214.0 361.6,214.1 362.6,214.4 363.6,214.6 364.6,214.9 365.5,215.2 366.4,215.6 367.4,216.0 368.2,216.4 369.1,216.9 370.0,217.4 370.9,217.8 371.8,218.2 372.7,218.7 373.6,219.1 374.5,219.5 375.4,220.0 376.3,220.5 377.1,221.1 377.9,221.7 378.7,222.3 379.5,222.9 380.3,223.5 381.1,224.1 381.9,224.7 382.7,225.3 383.5,225.9 384.3,226.5 385.1,227.1 385.9,227.7 386.7,228.3 387.4,228.9 388.2,229.6 389.0,230.2 389.7,230.9 390.5,231.5 391.2,232.3 391.9,233.0 392.5,233.8 393.0,234.6 393.6,235.4 394.2,236.2 394.8,237.0 395.5,237.8 396.2,238.4 397.1,238.9 397.9,239.5 398.8,240.0 399.5,240.7 400.3,241.3 401.0,242.1 401.6,242.8 402.3,243.5 403.0,244.2 403.7,245.0 404.4,245.7 405.0,246.5 405.7,247.2 406.4,247.9 407.3,248.4 408.2,248.7 409.2,248.9 410.2,249.1 411.1,249.3 412.1,249.7 413.0,250.1 413.9,250.5 414.8,251.0 415.6,251.6 416.1,252.4 416.6,253.3 417.1,254.2 417.5,255.1 417.9,256.0 418.5,256.9 419.2,257.5 420.2,257.5 421.1,257.2 422.0,256.8 423.0,256.5 424.0,256.6 424.9,256.9 425.8,257.5 426.6,258.0 427.4,258.5 428.4,258.9 429.3,259.3 430.2,259.6 431.2,259.9 432.1,260.2 433.1,260.6 434.0,260.9 435.0,261.3 435.9,261.7 436.7,262.2 437.6,262.7 438.4,263.3 439.2,263.8 440.1,264.3 441.1,264.6 442.0,264.9 443.0,265.1 444.0,265.4 444.9,265.7 445.9,266.0 446.8,266.4 447.8,266.7 448.7,267.1 449.6,267.4 450.6,267.7 451.5,268.1 452.5,268.4 453.4,268.7 454.3,269.1 455.3,269.4 456.2,269.7 457.2,270.0 458.2,270.3 459.1,270.6 460.1,270.8 461.0,271.1 462.0,271.4 463.0,271.7 463.9,271.9 464.9,272.2 465.9,272.4 466.8,272.7 467.8,272.9 468.8,273.1 469.8,273.3 470.7,273.5 471.7,273.7 472.7,273.9 473.7,274.1 474.7,274.3 475.7,274.4 476.6,274.6 477.6,274.7 478.6,274.9 479.6,275.0 480.6,275.2 481.6,275.4 482.6,275.6 483.5,275.8 484.5,276.1 485.5,276.3 486.4,276.6 487.4,276.8 488.4,277.1 489.3,277.3 490.3,277.6 491.3,277.8 492.3,278.0 493.2,278.2 494.2,278.4 495.2,278.7 496.1,279.0 497.0,279.4 497.9,279.9 498.8,280.3 499.8,280.5 500.8,280.5 501.8,280.5 502.8,280.5 503.8,280.5 504.8,280.5 505.8,280.5 506.8,280.5 507.8,280.5 508.8,280.5 509.8,280.7 510.8,280.9 511.8,281.1 512.7,281.3 513.7,281.5 514.7,281.7 515.7,281.8 516.7,281.8 517.7,281.8 518.7,281.8 519.7,281.8 520.6,282.0 521.5,282.6 522.3,283.1 523.3,283.2 524.3,283.3 525.3,283.3 526.3,283.4 527.3,283.4 528.3,283.5 529.3,283.5 530.3,283.6 531.3,283.7 532.3,283.8 533.3,283.8 534.3,283.9 535.3,284.0 536.2,284.1" fill="none" stroke="#1c22c0" stroke-width="1.8" stroke-linejoin="round"/>
<polyline points="58.1,201.5 59.1,201.3 60.1,201.1 61.0,200.8 62.0,200.6 63.0,200.3 63.9,200.0 64.9,199.7 65.8,199.3 66.7,199.0 67.6,198.5 68.5,198.1 69.5,197.7 70.4,197.3 71.3,197.0 72.2,196.6 73.2,196.3 74.2,196.0 75.1,195.8 76.1,195.5 77.0,195.2 78.0,195.0 79.0,194.8 80.0,194.7 81.0,194.7 82.0,194.6 83.0,194.5 84.0,194.5 85.0,194.4 86.0,194.3 87.0,194.2 88.0,194.1 88.9,193.9 89.9,193.6 90.9,193.3 91.8,193.0 92.7,192.6 93.6,192.1 94.4,191.5 95.2,190.9 96.0,190.3 96.8,189.7 97.6,189.1 98.3,188.4 99.0,187.7 99.7,187.0 100.4,186.3 101.1,185.5 101.8,184.8 102.4,184.0 103.0,183.2 103.6,182.4 104.2,181.6 104.8,180.8 105.4,180.0 105.9,179.2 106.5,178.3 107.0,177.5 107.6,176.7 108.2,175.8 108.7,175.0 109.2,174.2 109.8,173.3 110.3,172.5 110.8,171.6 111.3,170.8 111.8,169.9 112.3,169.0 112.8,168.1 113.3,167.3 113.7,166.4 114.1,165.5 114.6,164.6 115.0,163.6 115.4,162.7 115.8,161.8 116.1,160.9 116.5,159.9 116.9,159.0 117.2,158.1 117.6,157.2 117.9,156.2 118.3,155.3 118.6,154.3 119.0,153.4 119.3,152.5 119.7,151.5 120.0,150.6 120.4,149.7 120.8,148.7 121.1,147.8 121.5,146.9 121.8,145.9 122.2,145.0 122.5,144.1 122.9,143.1 123.3,142.2 123.6,141.3 124.0,140.3 124.4,139.4 124.7,138.5 125.1,137.5 125.4,136.6 125.8,135.7 126.2,134.7 126.5,133.8 126.9,132.9 127.2,131.9 127.6,131.0 127.9,130.1 128.3,129.1 128.6,128.2 128.9,127.2 129.3,126.3 129.6,125.3 129.9,124.4 130.2,123.4 130.5,122.5 130.8,121.5 131.1,120.6 131.4,119.6 131.7,118.7 131.9,117.7 132.2,116.8 132.5,115.8 132.8,114.8 133.1,113.9 133.4,112.9 133.7,112.0 134.0,111.0 134.2,110.0 134.5,109.1 134.8,108.1 135.1,107.2 135.4,106.2 135.7,105.3 136.0,104.3 136.3,103.4 136.6,102.4 136.9,101.5 137.2,100.5 137.6,99.6 137.9,98.6 138.2,97.7 138.5,96.7 138.8,95.8 139.2,94.8 139.5,93.9 139.8,92.9 140.1,92.0 140.4,91.0 140.7,90.1 141.0,89.1 141.3,88.2 141.6,87.2 141.9,86.3 142.2,85.3 142.5,84.3 142.8,83.4 143.1,82.4 143.4,81.5 143.7,80.5 144.0,79.6 144.3,78.6 144.6,77.7 145.0,76.7 145.3,75.8 145.7,74.9 146.0,73.9 146.4,73.0 146.7,72.1 147.1,71.1 147.5,70.2 147.9,69.3 148.3,68.4 148.7,67.5 149.0,66.5 149.4,65.6 149.8,64.7 150.2,63.8 150.6,62.8 151.0,61.9 151.4,61.0 151.8,60.1 152.2,59.2 152.5,58.2 152.9,57.3 153.3,56.4 153.7,55.5 154.1,54.6 154.6,53.7 155.0,52.8 155.4,51.9 155.8,51.0 156.3,50.1 156.7,49.2 157.2,48.3 157.7,47.4 158.2,46.5 158.6,45.7 159.1,44.8 159.6,43.9 160.1,43.1 160.6,42.2 161.1,41.3 161.6,40.4 162.1,39.6 162.5,38.7 163.0,37.8 163.5,36.9 164.0,36.0 164.5,35.2 165.1,34.4 165.8,33.7 166.6,33.0 167.3,32.4 168.2,31.9 169.1,31.5 170.0,31.1 171.0,30.8 171.9,30.5 172.9,30.4 173.9,30.3 174.9,30.4 175.9,30.6 176.8,30.9 177.8,31.3 178.6,31.9 179.4,32.5 180.1,33.2 180.8,33.9 181.4,34.7 182.0,35.5 182.4,36.4 182.9,37.3 183.3,38.2 183.7,39.1 184.1,40.0 184.5,40.9 184.9,41.8 185.3,42.8 185.6,43.7 186.0,44.6 186.3,45.6 186.7,46.5 187.0,47.5 187.3,48.4 187.6,49.4 187.9,50.3 188.2,51.3 188.5,52.2 188.8,53.2 189.0,54.1 189.3,55.1 189.6,56.1 189.8,57.0 190.1,58.0 190.3,59.0 190.6,59.9 190.8,60.9 191.0,61.9 191.3,62.9 191.5,63.8 191.7,64.8 191.9,65.8 192.2,66.8 192.4,67.7 192.6,68.7 192.9,69.7 193.1,70.6 193.3,71.6 193.6,72.6 193.8,73.6 194.1,74.5 194.3,75.5 194.5,76.5 194.8,77.4 195.0,78.4 195.3,79.4 195.5,80.3 195.8,81.3 196.0,82.3 196.3,83.3 196.5,84.2 196.8,85.2 197.0,86.2 197.3,87.1 197.5,88.1 197.8,89.1 198.0,90.0 198.2,91.0 198.5,92.0 198.7,93.0 198.9,93.9 199.1,94.9 199.4,95.9 199.6,96.9 199.8,97.8 200.0,98.8 200.2,99.8 200.4,100.8 200.6,101.7 200.8,102.7 201.1,103.7 201.3,104.7 201.5,105.6 201.7,106.6 202.0,107.6 202.2,108.6 202.4,109.5 202.7,110.5 202.9,111.5 203.1,112.5 203.4,113.4 203.6,114.4 203.9,115.4 204.1,116.3 204.4,117.3 204.6,118.3 204.8,119.2 205.1,120.2 205.3,121.2 205.6,122.2 205.8,123.1 206.1,124.1 206.3,125.1 206.5,126.0 206.8,127.0 207.0,128.0 207.3,128.9 207.5,129.9 207.8,130.9 208.0,131.8 208.3,132.8 208.5,133.8 208.7,134.8 209.0,135.7 209.2,136.7 209.4,137.7 209.6,138.7 209.9,139.6 210.1,140.6 210.3,141.6 210.5,142.6 210.7,143.5 210.9,144.5 211.1,145.5 211.3,146.5 211.4,147.5 211.6,148.5 211.8,149.4 212.0,150.4 212.2,151.4 212.4,152.4 212.6,153.3 212.8,154.3 213.1,155.3 213.3,156.3 213.5,157.2 213.8,158.2 214.0,159.2 214.3,160.2 214.5,161.1 214.8,162.1 215.0,163.1 215.3,164.0 215.5,165.0 215.8,165.9 216.1,166.9 216.3,167.9 216.6,168.9 216.8,169.8 217.1,170.8 217.3,171.8 217.6,172.7 217.8,173.7 218.1,174.7 218.3,175.6 218.6,176.6 218.9,177.6 219.1,178.5 219.4,179.5 219.6,180.4 219.9,181.4 220.2,182.4 220.5,183.3 220.7,184.3 221.0,185.3 221.3,186.2 221.6,187.2 221.9,188.1 222.2,189.1 222.6,190.0 222.9,190.9 223.4,191.8 223.8,192.7 224.3,193.6 224.8,194.4 225.3,195.3 225.8,196.2 226.3,197.1 226.8,197.9 227.3,198.8 227.7,199.7 228.2,200.6 228.7,201.4 229.2,202.3 229.8,203.1 230.4,203.9 231.0,204.7 231.7,205.4 232.5,206.1 233.3,206.7 234.1,207.3 234.9,207.8 235.8,208.3 236.6,208.9 237.4,209.4 238.3,210.0 239.1,210.6 239.9,211.2 240.7,211.8 241.5,212.4 242.3,212.9 243.2,213.3 244.2,213.7 245.1,214.0 246.1,214.3 247.0,214.5 248.0,214.8 249.0,215.0 250.0,215.2 251.0,215.3 251.9,215.5 252.9,215.6 253.9,215.7 254.9,215.8 255.9,215.9 256.9,216.0 257.9,216.1 258.9,216.2 259.9,216.2 260.9,216.2 261.9,216.1 262.9,216.1 263.9,215.9 264.9,215.8 265.9,215.6 266.9,215.4 267.8,215.1 268.7,214.6 269.6,214.1 270.4,213.7 271.3,213.1 272.1,212.6 273.1,212.4 273.9,213.0 274.6,213.7 275.3,214.4 276.3,214.5 277.1,214.1 278.0,213.5 278.9,213.2 279.9,213.0 280.9,212.8 281.9,212.7 282.9,212.6 283.9,212.5 284.8,212.3 285.8,212.1 286.8,211.9 287.8,211.7 288.7,211.4 289.7,211.2 290.7,210.9 291.6,210.7 292.6,210.5 293.6,210.3 294.6,210.0 295.5,209.7 296.5,209.4 297.3,208.9 298.1,208.3 298.9,207.6 299.7,207.0 300.6,206.6 301.5,206.2 302.4,205.9 303.4,205.5 304.3,205.2 305.3,205.0 306.3,204.8 307.3,204.7 308.3,204.7 309.3,204.7 310.3,204.8 311.3,204.9 312.3,205.0 313.3,205.1 314.3,205.2 315.3,205.3 316.3,205.4 317.2,205.6 318.2,205.7 319.2,205.8 320.2,205.9 321.2,206.0 322.2,206.0 323.2,206.0 324.2,206.0 325.2,206.1 326.2,206.1 327.2,206.2 328.2,206.2 329.2,206.3 330.2,206.4 331.2,206.5 332.2,206.6 333.2,206.7 334.2,206.9 335.1,207.1 336.1,207.3 337.1,207.5 338.1,207.6 339.1,207.5 340.1,207.3 341.0,207.0 342.0,206.6 342.9,206.4 343.9,206.2 344.9,206.2 345.9,206.4 346.9,206.5 347.9,206.8 348.8,207.0 349.8,207.3 350.8,207.5 351.7,207.9 352.6,208.3 353.5,208.6 354.5,209.0 355.4,209.4 356.3,209.7 357.3,210.1 358.2,210.4 359.2,210.7 360.1,211.0 361.1,211.3 362.0,211.6 363.0,211.9 363.9,212.2 364.9,212.5 365.8,212.9 366.7,213.4 367.5,213.9 368.4,214.5 369.2,215.0 370.0,215.6 370.9,216.1 371.7,216.7 372.6,217.2 373.4,217.7 374.2,218.3 375.1,218.8 375.9,219.4 376.7,220.0 377.5,220.6 378.3,221.2 379.1,221.8 379.9,222.4 380.7,223.0 381.6,223.5 382.5,224.0 383.4,224.4 384.3,224.8 385.2,225.2 386.0,225.7 386.8,226.4 387.4,227.2 387.9,228.0 388.5,228.9 389.1,229.6 389.9,230.3 390.6,230.9 391.4,231.6 392.2,232.1 393.1,232.6 394.1,232.9 395.0,233.0 396.0,233.1 397.0,233.1 398.0,233.1 399.0,233.2 399.7,234.0 400.1,234.9 400.4,235.8 400.8,236.7 401.2,237.6 401.9,238.3 402.8,238.8 403.7,239.2 404.6,239.7 405.4,240.3 406.2,240.8 407.1,241.3 408.1,241.6 409.1,241.8 410.1,242.0 411.0,242.2 411.9,242.6 412.8,243.2 413.5,243.8 414.3,244.5 415.0,245.1 415.8,245.7 416.5,246.4 417.3,247.1 418.0,247.8 418.9,248.3 419.8,248.3 420.7,247.9 421.6,247.3 422.4,246.8 423.3,246.4 424.3,246.6 425.1,247.2 425.8,247.9 426.6,248.6 427.3,249.2 428.2,249.7 429.0,250.2 429.9,250.7 430.8,251.2 431.7,251.7 432.6,252.1 433.5,252.6 434.4,253.0 435.3,253.3 436.2,253.7 437.2,254.0 438.1,254.3 439.1,254.6 440.0,254.9 441.0,255.3 441.9,255.7 442.8,256.1 443.7,256.5 444.6,256.9 445.6,257.2 446.5,257.5 447.5,257.9 448.4,258.2 449.4,258.5 450.3,258.9 451.2,259.2 452.1,259.6 453.1,260.0 454.0,260.4 454.9,260.8 455.8,261.2 456.7,261.6 457.7,262.0 458.6,262.4 459.5,262.7 460.5,263.0 461.4,263.4 462.4,263.7 463.3,264.0 464.3,264.3 465.2,264.6 466.2,264.9 467.1,265.2 468.1,265.5 469.0,265.8 470.0,266.0 471.0,266.3 471.9,266.6 472.9,266.8 473.9,267.1 474.8,267.3 475.8,267.6 476.8,267.8 477.8,268.0 478.7,268.2 479.7,268.5 480.7,268.7 481.6,269.0 482.6,269.3 483.5,269.6 484.5,269.9 485.4,270.2 486.4,270.6 487.3,270.9 488.3,271.2 489.2,271.6 490.2,271.9 491.1,272.2 492.1,272.5 493.0,272.7 494.0,273.0 495.0,273.3 495.9,273.5 496.9,273.8 497.9,274.1 498.8,274.3 499.8,274.5 500.8,274.7 501.8,274.9 502.8,275.1 503.7,275.2 504.7,275.4 505.7,275.5 506.7,275.7 507.7,275.8 508.7,276.0 509.7,276.2 510.7,276.3 511.6,276.5 512.6,276.7 513.6,276.8 514.6,277.0 515.6,277.2 516.5,277.5 517.5,277.7 518.5,278.1 519.4,278.4 520.4,278.7 521.3,279.0 522.3,279.2 523.3,279.3 524.3,279.4 525.3,279.6 526.3,279.7 527.3,279.8 528.3,279.8 529.2,279.9 530.2,280.0 531.2,280.1 532.2,280.1 533.2,280.2 534.2,280.2 535.2,280.3 536.2,280.3" fill="none" stroke="#35d83a" stroke-width="1.8" stroke-linejoin="round"/>
<polyline points="58.1,192.2 59.1,192.1 60.1,192.0 61.1,191.8 62.1,191.6 63.0,191.4 64.0,191.2 65.0,190.9 65.9,190.6 66.8,190.2 67.7,189.8 68.6,189.4 69.5,188.9 70.5,188.5 71.4,188.1 72.3,187.8 73.3,187.5 74.3,187.3 75.2,187.0 76.2,186.8 77.2,186.6 78.1,186.4 79.1,186.2 80.1,186.0 81.1,185.8 82.1,185.6 83.1,185.5 84.1,185.3 85.0,185.1 86.0,185.0 87.0,184.8 88.0,184.6 89.0,184.4 90.0,184.2 90.9,184.0 91.9,183.7 92.8,183.3 93.7,182.8 94.5,182.3 95.3,181.7 96.2,181.2 97.1,180.7 97.9,180.2 98.8,179.8 99.7,179.3 100.5,178.7 101.3,178.1 102.0,177.4 102.7,176.6 103.3,175.9 103.9,175.1 104.5,174.3 105.1,173.5 105.7,172.7 106.3,171.9 106.9,171.1 107.5,170.2 108.1,169.4 108.6,168.6 109.1,167.7 109.7,166.9 110.2,166.0 110.7,165.2 111.2,164.3 111.7,163.4 112.2,162.5 112.6,161.7 113.1,160.8 113.5,159.9 113.9,159.0 114.4,158.1 114.8,157.2 115.2,156.3 115.6,155.3 116.0,154.4 116.4,153.5 116.8,152.6 117.2,151.7 117.6,150.8 118.0,149.8 118.4,148.9 118.8,148.0 119.1,147.1 119.5,146.1 119.9,145.2 120.2,144.3 120.6,143.3 121.0,142.4 121.3,141.5 121.7,140.5 122.0,139.6 122.4,138.7 122.7,137.7 123.1,136.8 123.4,135.8 123.8,134.9 124.1,134.0 124.4,133.0 124.7,132.1 125.1,131.1 125.4,130.2 125.7,129.2 126.0,128.3 126.3,127.3 126.6,126.4 126.9,125.4 127.2,124.5 127.5,123.5 127.8,122.6 128.1,121.6 128.4,120.7 128.7,119.7 129.0,118.7 129.2,117.8 129.5,116.8 129.8,115.9 130.1,114.9 130.4,113.9 130.6,113.0 130.9,112.0 131.2,111.0 131.4,110.1 131.7,109.1 132.0,108.2 132.3,107.2 132.6,106.2 132.9,105.3 133.2,104.3 133.5,103.4 133.8,102.4 134.1,101.5 134.4,100.5 134.8,99.6 135.1,98.7 135.4,97.7 135.8,96.8 136.1,95.9 136.5,94.9 136.8,94.0 137.2,93.0 137.5,92.1 137.8,91.1 138.1,90.2 138.4,89.2 138.7,88.3 139.0,87.3 139.2,86.4 139.5,85.4 139.7,84.4 140.0,83.5 140.3,82.5 140.5,81.5 140.8,80.6 141.1,79.6 141.3,78.6 141.6,77.7 141.9,76.7 142.2,75.8 142.6,74.8 142.9,73.9 143.2,73.0 143.6,72.0 143.9,71.1 144.3,70.1 144.6,69.2 145.0,68.3 145.3,67.3 145.7,66.4 146.1,65.5 146.4,64.6 146.8,63.6 147.1,62.7 147.5,61.7 147.8,60.8 148.2,59.9 148.5,58.9 148.8,58.0 149.2,57.0 149.5,56.1 149.8,55.1 150.1,54.2 150.4,53.2 150.7,52.3 151.0,51.3 151.3,50.4 151.7,49.4 152.0,48.5 152.3,47.5 152.6,46.6 152.9,45.6 153.2,44.7 153.5,43.7 153.8,42.8 154.1,41.8 154.4,40.9 154.7,39.9 155.0,39.0 155.3,38.0 155.7,37.1 156.0,36.1 156.4,35.2 156.7,34.3 157.1,33.3 157.4,32.4 157.8,31.5 158.2,30.6 158.6,29.6 159.0,28.7 159.5,27.8 159.9,26.9 160.4,26.1 160.8,25.2 161.3,24.3 161.8,23.4 162.3,22.6 162.9,21.7 163.5,20.9 164.1,20.1 164.7,19.4 165.4,18.7 166.1,18.0 166.9,17.3 167.7,16.7 168.6,16.3 169.5,15.8 170.4,15.4 171.4,15.2 172.4,15.2 173.4,15.3 174.4,15.5 175.3,15.7 176.3,16.0 177.3,16.3 178.2,16.7 179.1,17.2 179.9,17.8 180.6,18.4 181.4,19.1 182.1,19.8 182.7,20.6 183.3,21.4 183.8,22.2 184.3,23.1 184.7,24.0 185.2,24.9 185.5,25.8 185.9,26.7 186.3,27.6 186.7,28.6 187.0,29.5 187.4,30.4 187.7,31.4 188.0,32.3 188.3,33.3 188.7,34.2 189.0,35.2 189.2,36.1 189.5,37.1 189.8,38.0 190.1,39.0 190.3,40.0 190.6,40.9 190.8,41.9 191.0,42.9 191.2,43.9 191.4,44.8 191.6,45.8 191.8,46.8 192.0,47.8 192.2,48.8 192.3,49.8 192.5,50.7 192.7,51.7 192.8,52.7 193.0,53.7 193.1,54.7 193.2,55.7 193.4,56.7 193.5,57.7 193.7,58.7 193.8,59.7 193.9,60.6 194.1,61.6 194.2,62.6 194.4,63.6 194.5,64.6 194.6,65.6 194.8,66.6 194.9,67.6 195.1,68.6 195.3,69.5 195.4,70.5 195.6,71.5 195.8,72.5 196.0,73.5 196.2,74.4 196.4,75.4 196.7,76.4 196.9,77.4 197.1,78.3 197.4,79.3 197.6,80.3 197.8,81.2 198.1,82.2 198.3,83.2 198.6,84.2 198.8,85.1 199.0,86.1 199.2,87.1 199.5,88.1 199.7,89.0 199.9,90.0 200.1,91.0 200.4,92.0 200.6,92.9 200.8,93.9 201.0,94.9 201.2,95.9 201.5,96.8 201.7,97.8 201.9,98.8 202.2,99.7 202.4,100.7 202.6,101.7 202.8,102.7 203.0,103.6 203.3,104.6 203.5,105.6 203.7,106.6 203.9,107.6 204.1,108.5 204.2,109.5 204.4,110.5 204.6,111.5 204.8,112.5 205.0,113.4 205.2,114.4 205.4,115.4 205.6,116.4 205.8,117.4 206.1,118.3 206.3,119.3 206.5,120.3 206.7,121.3 207.0,122.2 207.2,123.2 207.5,124.2 207.7,125.1 207.9,126.1 208.2,127.1 208.4,128.0 208.7,129.0 208.9,130.0 209.2,131.0 209.4,131.9 209.7,132.9 209.9,133.9 210.1,134.8 210.4,135.8 210.6,136.8 210.8,137.8 211.1,138.7 211.3,139.7 211.5,140.7 211.7,141.7 211.9,142.6 212.1,143.6 212.3,144.6 212.5,145.6 212.7,146.6 212.9,147.5 213.0,148.5 213.2,149.5 213.4,150.5 213.6,151.5 213.8,152.4 214.1,153.4 214.3,154.4 214.5,155.4 214.7,156.3 215.0,157.3 215.2,158.3 215.5,159.2 215.7,160.2 216.0,161.2 216.3,162.1 216.5,163.1 216.8,164.1 217.0,165.0 217.3,166.0 217.5,167.0 217.8,167.9 218.0,168.9 218.3,169.9 218.5,170.9 218.7,171.8 219.0,172.8 219.2,173.8 219.4,174.7 219.6,175.7 219.9,176.7 220.1,177.7 220.3,178.6 220.5,179.6 220.8,180.6 221.0,181.6 221.2,182.5 221.5,183.5 221.8,184.5 222.0,185.4 222.3,186.4 222.7,187.3 223.0,188.2 223.4,189.2 223.9,190.1 224.3,191.0 224.8,191.8 225.3,192.7 225.8,193.6 226.3,194.4 226.8,195.3 227.3,196.2 227.8,197.1 228.3,197.9 228.8,198.8 229.3,199.6 229.9,200.4 230.5,201.3 231.1,202.0 231.8,202.8 232.5,203.4 233.3,204.0 234.1,204.6 235.0,205.1 235.9,205.6 236.7,206.1 237.6,206.6 238.4,207.2 239.2,207.8 240.0,208.4 240.8,209.0 241.7,209.5 242.5,210.0 243.4,210.5 244.3,210.9 245.2,211.3 246.2,211.6 247.1,211.9 248.1,212.3 249.0,212.5 250.0,212.8 251.0,213.0 251.9,213.2 252.9,213.4 253.9,213.6 254.9,213.8 255.9,213.9 256.9,214.0 257.9,214.2 258.9,214.2 259.9,214.3 260.9,214.3 261.9,214.2 262.9,214.1 263.9,214.0 264.8,213.8 265.8,213.6 266.8,213.4 267.7,213.0 268.6,212.5 269.4,212.0 270.3,211.5 271.2,211.0 272.0,210.5 273.0,210.3 273.9,210.7 274.7,211.3 275.6,211.7 276.6,211.5 277.5,211.0 278.3,210.5 279.2,210.1 280.2,209.8 281.2,209.6 282.1,209.4 283.1,209.1 284.1,208.9 285.1,208.7 286.0,208.4 287.0,208.2 288.0,208.0 289.0,207.7 289.9,207.5 290.9,207.3 291.9,207.0 292.8,206.8 293.8,206.5 294.8,206.3 295.7,206.0 296.7,205.7 297.6,205.4 298.5,205.0 299.5,204.6 300.5,204.4 301.5,204.3 302.5,204.2 303.4,204.2 304.4,204.1 305.4,204.0 306.4,204.0 307.4,204.0 308.4,204.0 309.4,204.0 310.4,204.1 311.4,204.2 312.4,204.3 313.4,204.4 314.4,204.5 315.4,204.6 316.4,204.8 317.4,204.9 318.4,205.1 319.4,205.2 320.4,205.2 321.4,205.3 322.4,205.3 323.4,205.3 324.4,205.3 325.4,205.4 326.4,205.4 327.4,205.5 328.4,205.5 329.4,205.6 330.4,205.7 331.4,205.8 332.4,205.9 333.3,206.0 334.3,206.2 335.3,206.5 336.3,206.7 337.3,206.8 338.3,206.9 339.3,206.8 340.2,206.5 341.2,206.2 342.1,205.9 343.1,205.6 344.1,205.5 345.1,205.6 346.0,205.7 347.0,205.9 348.0,206.1 349.0,206.4 349.9,206.6 350.9,206.8 351.9,207.1 352.9,207.3 353.8,207.6 354.8,207.8 355.7,208.1 356.7,208.4 357.7,208.7 358.6,209.0 359.6,209.3 360.5,209.7 361.4,210.1 362.3,210.5 363.2,211.0 364.0,211.5 364.9,212.0 365.8,212.5 366.6,213.1 367.5,213.6 368.3,214.1 369.1,214.7 370.0,215.2 370.8,215.8 371.7,216.3 372.5,216.8 373.4,217.4 374.2,217.9 375.0,218.4 375.9,219.0 376.7,219.6 377.5,220.2 378.3,220.8 379.1,221.4 379.9,222.0 380.7,222.6 381.5,223.1 382.4,223.6 383.3,224.0 384.2,224.5 385.1,224.9 386.0,225.3 386.9,225.8 387.8,226.2 388.7,226.6 389.6,227.1 390.5,227.5 391.4,228.0 392.2,228.5 393.0,229.2 393.8,229.8 394.7,230.2 395.7,230.1 396.7,229.8 397.6,229.4 398.5,229.2 399.5,229.2 400.3,229.9 400.8,230.7 401.4,231.5 401.9,232.4 402.4,233.3 403.0,234.1 403.6,234.8 404.3,235.6 404.9,236.3 405.6,237.1 406.4,237.7 407.2,238.2 408.2,238.5 409.2,238.7 410.2,238.9 411.1,239.1 412.0,239.6 412.7,240.3 413.3,241.1 414.0,241.9 414.6,242.6 415.4,243.3 416.2,243.9 417.0,244.4 417.9,245.0 418.8,245.3 419.8,245.3 420.6,244.8 421.3,244.0 422.0,243.3 422.7,242.6 423.6,242.3 424.5,242.8 425.1,243.5 425.7,244.3 426.3,245.1 427.0,245.9 427.8,246.5 428.7,247.0 429.6,247.3 430.5,247.7 431.5,248.0 432.4,248.3 433.4,248.6 434.3,248.9 435.3,249.2 436.2,249.6 437.1,250.0 438.0,250.5 438.9,250.9 439.8,251.3 440.7,251.7 441.7,252.1 442.6,252.5 443.5,252.9 444.4,253.3 445.4,253.6 446.3,254.0 447.2,254.4 448.1,254.8 449.1,255.2 450.0,255.6 450.9,256.0 451.8,256.4 452.7,256.9 453.5,257.4 454.4,257.8 455.3,258.3 456.2,258.8 457.1,259.2 458.0,259.7 458.9,260.1 459.8,260.5 460.7,260.9 461.7,261.2 462.6,261.6 463.5,262.0 464.4,262.4 465.4,262.7 466.3,263.1 467.2,263.4 468.2,263.8 469.1,264.1 470.1,264.4 471.0,264.7 472.0,265.0 473.0,265.3 473.9,265.5 474.9,265.8 475.9,266.0 476.8,266.2 477.8,266.4 478.8,266.7 479.8,266.9 480.7,267.2 481.7,267.4 482.6,267.7 483.6,268.0 484.5,268.4 485.5,268.7 486.4,269.0 487.4,269.4 488.3,269.7 489.3,270.0 490.2,270.3 491.2,270.6 492.1,270.8 493.1,271.0 494.1,271.2 495.1,271.4 496.0,271.8 496.9,272.3 497.7,272.8 498.6,273.3 499.5,273.8 500.4,274.1 501.4,274.3 502.4,274.5 503.4,274.7 504.4,274.8 505.4,275.0 506.4,275.1 507.3,275.2 508.3,275.3 509.3,275.4 510.3,275.5 511.3,275.6 512.3,275.6 513.3,275.7 514.3,275.8 515.3,275.8 516.3,275.9 517.3,276.1 518.3,276.2 519.3,276.4 520.2,276.7 521.1,277.2 522.0,277.7 522.9,278.0 523.9,278.1 524.9,278.3 525.9,278.4 526.9,278.5 527.9,278.5 528.9,278.6 529.9,278.6 530.9,278.7 531.9,278.7 532.9,278.7 533.9,278.8 534.9,278.8 535.9,278.8 536.2,278.8" fill="none" stroke="#d830d8" stroke-width="1.8" stroke-linejoin="round"/>
<line x1="160.6" y1="100" x2="174" y2="31.6" stroke="#111" stroke-width="1.5"/>
<polygon points="176.3,19.6 171.1,31.0 176.9,32.2" fill="#111"/>
<text x="158.7" y="124" font-size="18.5" font-weight="bold" text-anchor="middle" font-family="Liberation Sans" fill="#111" stroke="#111" stroke-width="0.4">A</text>
<text x="180.2" y="15.6" font-size="17.5" font-weight="bold" text-anchor="middle" font-family="Liberation Sans" fill="#111" stroke="#111" stroke-width="0.3">E</text>
</svg>
</body></html>
